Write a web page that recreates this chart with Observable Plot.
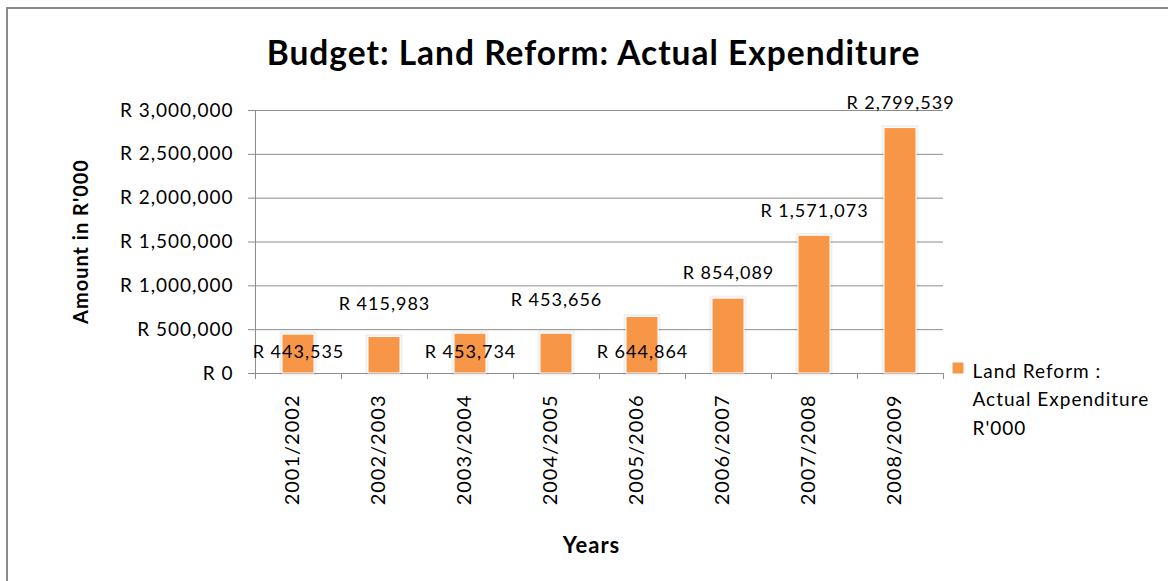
<!DOCTYPE html>
<html>
<head>
<meta charset="utf-8">
<script src="https://cdn.jsdelivr.net/npm/d3@7"></script>
<script src="https://cdn.jsdelivr.net/npm/@observablehq/plot@0.6"></script>
<style>
  html, body { margin: 0; padding: 0; background: #fff; }
  #chart { position: relative; width: 1168px; height: 581px; overflow: hidden; }
  #border { position: absolute; left: 6px; top: 7px; width: 1200px; height: 600px;
            border-top: 2.5px solid #8a8a8a; border-left: 2.5px solid #8a8a8a; pointer-events: none; }
  #chart svg { position: absolute; left: 0; top: 0; }
</style>
</head>
<body>
<div id="chart"><div id="border"></div></div>
<script>
// ---- data ----
const years = ["2001/2002", "2002/2003", "2003/2004", "2004/2005", "2005/2006", "2006/2007", "2007/2008", "2008/2009"];
const expenditure = [443535, 415983, 453734, 453656, 644864, 854089, 1571073, 2799539];
const yTicks = [0, 500000, 1000000, 1500000, 2000000, 2500000, 3000000];
const chartTitle = "Budget: Land Reform: Actual Expenditure";
const yTitle = "Amount in R'000";
const xTitle = "Years";
const legendLabel = "Land Reform :\nActual Expenditure\nR'000";

// ---- layout ----
const W = 1168, H = 581;
const mL = 255, mR = 225, mT = 110, mB = 208;
const orange = "#F79646";
const gridColor = "#8c8c8c";
const fmt = v => "R " + d3.format(",")(v);

const data = years.map((year, i) => ({year, value: expenditure[i], i}));
// label placement as in the reference: inside base for some bars, above the bar for others
const insideBase = data.filter(d => d.i === 0 || d.i === 2 || d.i === 4);
const aboveHigh = data.filter(d => d.i === 1 || d.i === 3);
const aboveLow = data.filter(d => d.i >= 5);

const frameMark = (index, scales, values, dims) => {
  const g = d3.create("svg:g").attr("stroke", gridColor).attr("stroke-width", 1).attr("fill", "none");
  const x0 = dims.marginLeft, x1 = dims.width - dims.marginRight;
  const y0 = dims.marginTop, y1 = dims.height - dims.marginBottom;
  g.append("line").attr("x1", x0 + 0.5).attr("x2", x0 + 0.5).attr("y1", y0).attr("y2", y1 + 6);
  const n = years.length;
  for (let k = 1; k <= n; ++k) {
    const xx = Math.round(x0 + k * (x1 - x0) / n) + 0.5;
    g.append("line").attr("x1", xx).attr("x2", xx).attr("y1", y1).attr("y2", y1 + 6);
  }
  return g.node();
};

const chart = Plot.plot({
  width: W, height: H,
  marginLeft: mL, marginRight: mR, marginTop: mT, marginBottom: mB,
  style: {fontFamily: "Lato, 'Open Sans', sans-serif", fontSize: "19px", color: "#000", background: "transparent", overflow: "visible", letterSpacing: "1px"},
  x: {domain: years, paddingInner: 0.63, paddingOuter: 0.315, axis: null},
  y: {domain: [0, 3000000], ticks: yTicks, tickFormat: fmt, tickSize: 0, tickPadding: 22, label: null},
  marks: [
    Plot.ruleY(yTicks, {stroke: gridColor, strokeWidth: 1, insetLeft: -7}),
    frameMark,
    Plot.barY(data, {x: "year", y: "value", fill: "none", stroke: "#000", strokeOpacity: 0.06, strokeWidth: 5}),
    Plot.barY(data, {x: "year", y: "value", fill: orange, stroke: "#fff", strokeWidth: 1}),
    // data labels
    Plot.text(insideBase, {x: "year", y: 0, text: d => fmt(d.value), dy: -21, fontSize: 18}),
    Plot.text(aboveHigh, {x: "year", y: "value", text: d => fmt(d.value), dy: -33, fontSize: 18}),
    Plot.text(aboveLow, {x: "year", y: "value", text: d => fmt(d.value), dy: -25, fontSize: 18}),
    // x tick labels
    Plot.text(years, {x: d => d, frameAnchor: "bottom", rotate: -90, textAnchor: "end", dy: 21, fontSize: 20}),
    // titles
    Plot.text([chartTitle], {frameAnchor: "top-left", dx: 338, dy: -56, fontSize: 33.5, fontWeight: "bold", textAnchor: "middle", lineAnchor: "middle"}),
    Plot.text([yTitle], {frameAnchor: "top-left", dx: -174, dy: 131, fontSize: 20, fontWeight: "bold", rotate: -90, textAnchor: "middle", lineAnchor: "middle"}),
    Plot.text([xTitle], {frameAnchor: "top-left", dx: 336, dy: 435, fontSize: 22, fontWeight: "bold", textAnchor: "middle", lineAnchor: "middle"}),
    // legend
    Plot.dot([legendLabel], {frameAnchor: "top-left", dx: 702.5, dy: 257.5, symbol: "square", r: 6.2, fill: orange, stroke: "none"}),
    Plot.text([legendLabel], {frameAnchor: "top-left", dx: 717, dy: 286.5, fontSize: 19, textAnchor: "start", lineAnchor: "middle", lineHeight: 1.5})
  ]
});
document.getElementById("chart").appendChild(chart);
</script>
</body>
</html>
